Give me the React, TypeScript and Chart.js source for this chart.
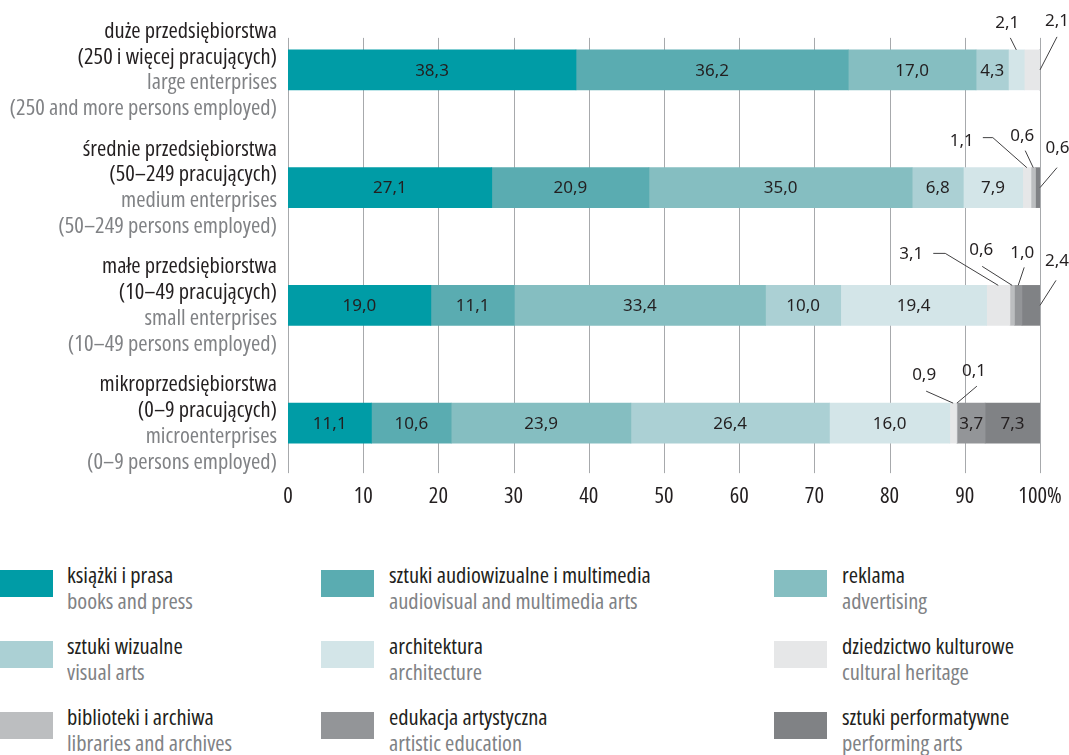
import React, { useEffect, useRef } from "react";
import { Chart, registerables } from "chart.js";

Chart.register(...registerables);

// ---------- data ----------
const categoriesPl: string[][] = [
  ["duże przedsiębiorstwa", "(250 i więcej pracujących)"],
  ["średnie przedsiębiorstwa", "(50–249 pracujących)"],
  ["małe przedsiębiorstwa", "(10–49 pracujących)"],
  ["mikroprzedsiębiorstwa", "(0–9 pracujących)"],
];
const categoriesEn: string[][] = [
  ["large enterprises", "(250 and more persons employed)"],
  ["medium enterprises", "(50–249 persons employed)"],
  ["small enterprises", "(10–49 persons employed)"],
  ["microenterprises", "(0–9 persons employed)"],
];

const seriesPl = [
  "książki i prasa",
  "sztuki audiowizualne i multimedia",
  "reklama",
  "sztuki wizualne",
  "architektura",
  "dziedzictwo kulturowe",
  "biblioteki i archiwa",
  "edukacja artystyczna",
  "sztuki performatywne",
];
const seriesEn = [
  "books and press",
  "audiovisual and multimedia arts",
  "advertising",
  "visual arts",
  "architecture",
  "cultural heritage",
  "libraries and archives",
  "artistic education",
  "performing arts",
];

const booksPress = [38.3, 27.1, 19.0, 11.1];
const audiovisual = [36.2, 20.9, 11.1, 10.6];
const advertising = [17.0, 35.0, 33.4, 23.9];
const visualArts = [4.3, 6.8, 10.0, 26.4];
const architecture = [2.1, 7.9, 19.4, 16.0];
const culturalHeritage = [2.1, 1.1, 3.1, 0.9];
const libraries = [0, 0.6, 0.6, 0.1];
const artisticEducation = [0, 0, 1.0, 3.7];
const performingArts = [0, 0.6, 2.4, 7.3];

const xTicks = [0, 10, 20, 30, 40, 50, 60, 70, 80, 90, 100];
const xTickLabels = ["0", "10", "20", "30", "40", "50", "60", "70", "80", "90", "100%"];

// ---------- style ----------
const seriesColors = [
  "#009ca6",
  "#5aacb1",
  "#85bec1",
  "#abd0d4",
  "#d3e5e8",
  "#e6e7e8",
  "#bcbec0",
  "#939598",
  "#808285",
];
const COND = '"Open Sans", "DejaVu Sans Condensed", sans-serif';
const REGULAR = '"Noto Sans", "Open Sans", sans-serif';
const DARK = "#231f20";
const GREY = "#808285";
const SX = 1.07;

type Callout = {
  row: number; ds: number; anchor: "top" | "right";
  tx: number; ty: number; lx: number; ly: number; ex?: number; ey?: number;
};
const callouts: Callout[] = [
  { row: 0, ds: 4, anchor: "top", tx: -9, ty: -26.5, lx: -6, ly: -12 },
  { row: 0, ds: 5, anchor: "right", tx: 17, ty: -48.5, lx: 17, ly: -33 },
  { row: 1, ds: 5, anchor: "top", tx: -65, ty: -26, lx: -44, ly: -30, ex: -34, ey: -30 },
  { row: 1, ds: 6, anchor: "top", tx: -11, ty: -31, lx: -8, ly: -17 },
  { row: 1, ds: 8, anchor: "right", tx: 17.5, ty: -39.5, lx: 17, ly: -20 },
  { row: 2, ds: 5, anchor: "top", tx: -87, ty: -31, lx: -65, ly: -32, ex: -53, ey: -32 },
  { row: 2, ds: 6, anchor: "top", tx: -31, ty: -35, lx: -30, ly: -19 },
  { row: 2, ds: 7, anchor: "top", tx: 4, ty: -32, lx: 6, ly: -18 },
  { row: 2, ds: 8, anchor: "right", tx: 17, ty: -44, lx: 16, ly: -25 },
  { row: 3, ds: 5, anchor: "top", tx: -29, ty: -28, lx: -27, ly: -12 },
  { row: 3, ds: 6, anchor: "top", tx: 17, ty: -31.5, lx: 20, ly: -17 },
];

const fmt = (v: number) => v.toFixed(1).replace(".", ",");

function setCond(ctx: any, size: number) {
  ctx.font = `${size}px ${COND}`;
  try { ctx.fontStretch = "condensed"; } catch (e) { /* ignore */ }
}

function drawScaled(ctx: any, text: string, x: number, y: number) {
  ctx.save();
  ctx.translate(x, y);
  ctx.scale(SX, 1);
  ctx.fillText(text, 0, 0);
  ctx.restore();
}

const overlayPlugin = {
  id: "overlay",
  beforeDatasetsDraw(chart: any) {
    const { ctx, scales } = chart;
    const x = scales.x;
    const y = scales.y;
    const top = y.getPixelForValue(0) - 32;
    const bottom = y.getPixelForValue(3) + 50;
    ctx.save();
    ctx.strokeStyle = "#a7a9ac";
    ctx.lineWidth = 1;
    for (const v of xTicks) {
      const px = Math.round(x.getPixelForValue(v)) + 0.5;
      ctx.beginPath();
      ctx.moveTo(px, top);
      ctx.lineTo(px, bottom);
      ctx.stroke();
    }
    ctx.restore();
  },
  afterDatasetsDraw(chart: any) {
    const { ctx, scales, chartArea } = chart;
    const x = scales.x;
    const y = scales.y;
    ctx.save();
    ctx.font = `17px ${REGULAR}`;
    ctx.fillStyle = DARK;
    ctx.textAlign = "center";
    ctx.textBaseline = "middle";
    chart.data.datasets.forEach((ds: any, di: number) => {
      const meta = chart.getDatasetMeta(di);
      meta.data.forEach((el: any, i: number) => {
        const v = ds.data[i];
        if (v >= 3.5) {
          const p = el.getProps(["x", "y", "base"], true);
          ctx.fillText(fmt(v), (p.x + p.base) / 2, p.y + 1);
        }
      });
    });
    ctx.strokeStyle = "#414042";
    ctx.lineWidth = 1;
    for (const c of callouts) {
      const el = chart.getDatasetMeta(c.ds).data[c.row];
      const p = el.getProps(["x", "y", "base", "height"], true);
      const ax = c.anchor === "top" ? (p.x + p.base) / 2 : p.x;
      const ay = c.anchor === "top" ? p.y - p.height / 2 : p.y;
      ctx.fillText(fmt(chart.data.datasets[c.ds].data[c.row]), ax + c.tx, ay + c.ty);
      ctx.beginPath();
      ctx.moveTo(ax + c.lx, ay + c.ly);
      if (c.ex !== undefined && c.ey !== undefined) ctx.lineTo(ax + c.ex, ay + c.ey);
      ctx.lineTo(ax, ay);
      ctx.stroke();
    }
    // x tick labels
    setCond(ctx, 21);
    ctx.fillStyle = DARK;
    ctx.textAlign = "center";
    xTicks.forEach((v, i) => {
      drawScaled(ctx, xTickLabels[i], x.getPixelForValue(v), chartArea.bottom + 15);
    });
    // category labels
    setCond(ctx, 21);
    ctx.textAlign = "right";
    const lx = chartArea.left - 11;
    categoriesPl.forEach((pl, i) => {
      const cy = y.getPixelForValue(i);
      const lines = [...pl, ...categoriesEn[i]];
      lines.forEach((t, j) => {
        ctx.fillStyle = j < 2 ? DARK : GREY;
        drawScaled(ctx, t, lx, cy - 38 + j * 25.8);
      });
    });
    ctx.restore();
  },
};

export default function App() {
  const ref = useRef<HTMLCanvasElement>(null);
  useEffect(() => {
    const values = [
      booksPress, audiovisual, advertising, visualArts, architecture,
      culturalHeritage, libraries, artisticEducation, performingArts,
    ];
    const chart = new Chart(ref.current as HTMLCanvasElement, {
      type: "bar",
      data: {
        labels: categoriesPl.map((c) => c[0]),
        datasets: values.map((d, i) => ({
          label: seriesPl[i],
          data: d,
          backgroundColor: seriesColors[i],
          borderWidth: 0,
          barThickness: 40,
        })),
      },
      options: {
        indexAxis: "y",
        animation: false,
        responsive: false,
        devicePixelRatio: 1,
        layout: { padding: { left: 288, right: 29, top: 11, bottom: 18 } },
        plugins: { legend: { display: false }, tooltip: { enabled: false } },
        scales: {
          x: {
            stacked: true,
            min: 0,
            max: 100,
            grid: { display: false, drawTicks: false },
            border: { display: false },
            afterFit: (s: any) => { s.height = 30; },
            ticks: { stepSize: 10, display: false },
          },
          y: { stacked: true, display: false },
        },
      },
      plugins: [overlayPlugin],
    } as any);
    return () => chart.destroy();
  }, []);

  const legendCols = [0, 321, 774];
  const legendRows = [570, 641, 712];

  return (
    <div style={{ position: "absolute", left: 0, top: 0, width: 1069, height: 755, background: "#fff", fontFamily: COND, fontStretch: "condensed", overflow: "hidden" }}>
      <canvas ref={ref} width={1069} height={530} style={{ position: "absolute", left: 0, top: 0, width: 1069, height: 530 }} />
      {seriesPl.map((name, i) => {
        const col = i % 3;
        const row = Math.floor(i / 3);
        const left = legendCols[col];
        const top = legendRows[row];
        return (
          <div key={name}>
            <div style={{ position: "absolute", left, top, width: 53, height: 27, background: seriesColors[i] }} />
            <div style={{ position: "absolute", left: left + 67 + (col === 0 ? 0 : 1), top: top - 8, fontSize: 21, lineHeight: "26px", whiteSpace: "nowrap", transform: `scaleX(${SX})`, transformOrigin: "left top" }}>
              <div style={{ color: DARK }}>{name}</div>
              <div style={{ color: GREY }}>{seriesEn[i]}</div>
            </div>
          </div>
        );
      })}
    </div>
  );
}
